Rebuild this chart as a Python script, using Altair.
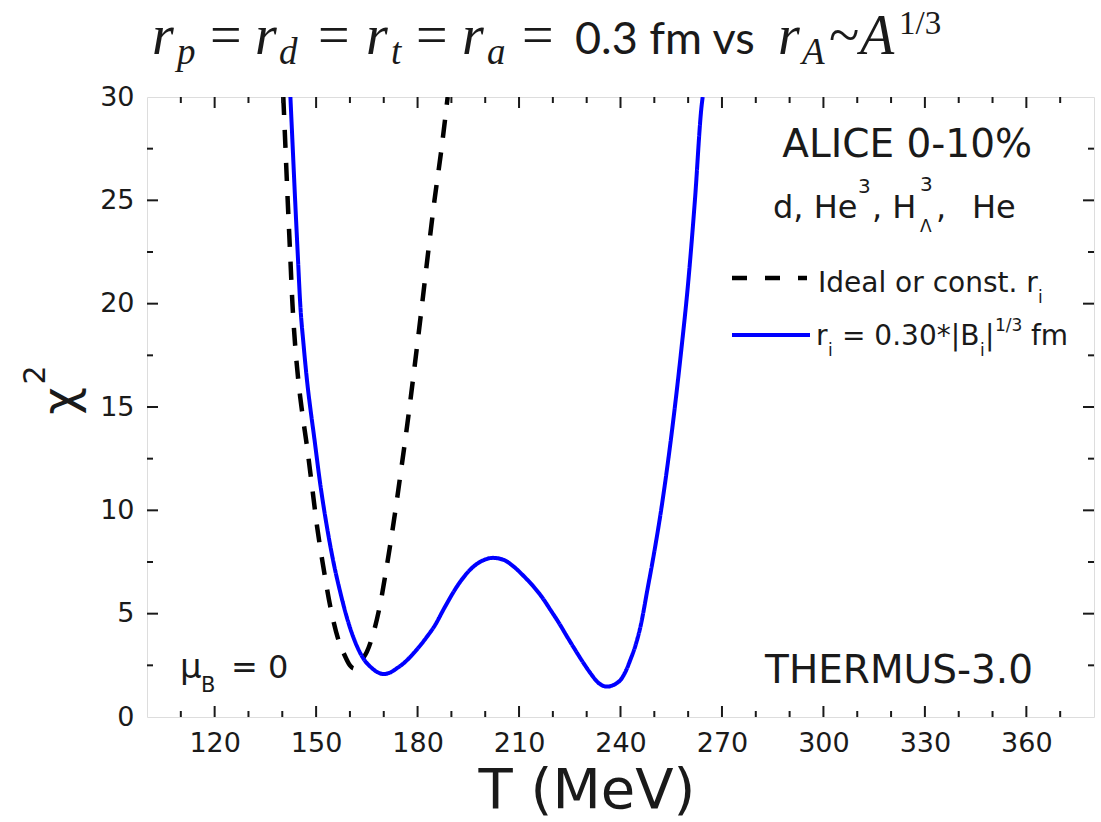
import altair as alt
import pandas as pd

# ---------------- data ----------------
ideal_T = [140.3, 140.95, 141.6, 142.3, 143.0, 143.8, 144.8, 146.0, 147.3, 148.8, 150.3,
           152.1, 154.2, 156.6, 158.4, 160.0, 161.2, 162.4, 163.5, 165.0, 167.0, 169.0,
           171.0, 173.0, 175.0, 177.0, 179.0, 181.0, 183.0, 185.0, 187.0, 188.9]
ideal_chi2 = [30.0, 27.5, 25.0, 22.5, 20.0, 18.0, 16.2, 14.6, 13.1, 11.15, 9.2,
              7.3, 5.34, 3.73, 3.0, 2.5, 2.35, 2.45, 2.75, 3.15, 4.1, 5.5,
              7.4, 9.5, 11.8, 14.2, 16.8, 19.5, 22.3, 25.0, 27.4, 30.0]

scaled_T = [142.4, 143.1, 143.8, 144.6, 145.3, 146.3, 147.5, 148.4, 149.3, 151.2, 153.2,
            155.2, 157.2, 159.6, 162.6, 164.3, 166.0, 168.0, 170.0, 172.0, 173.9, 175.9,
            177.9, 182.8, 185.0, 188.0, 192.0, 196.0, 199.0, 202.3, 205.5, 208.4, 211.5,
            214.3, 217.0, 219.3, 221.8, 224.2, 226.7, 229.1, 231.2, 233.1, 234.7, 236.0,
            237.5, 239.0, 240.0, 241.5, 242.9, 244.5, 245.9, 248.0, 250.0, 252.0, 254.0,
            256.0, 258.0, 260.0, 262.0, 264.0, 264.3]
scaled_chi2 = [30.0, 27.5, 25.0, 22.3, 20.0, 18.0, 16.0, 14.8, 13.7, 11.3, 9.2,
               7.44, 6.0, 4.54, 3.24, 2.75, 2.44, 2.18, 2.08, 2.16, 2.36, 2.6,
               2.92, 3.89, 4.4, 5.3, 6.4, 7.2, 7.55, 7.7, 7.6, 7.28, 6.8,
               6.31, 5.75, 5.18, 4.55, 3.89, 3.22, 2.6, 2.1, 1.71, 1.52, 1.47,
               1.52, 1.65, 1.79, 2.2, 2.76, 3.5, 4.37, 6.2, 8.0, 10.0, 12.3,
               14.9, 17.8, 21.0, 25.0, 29.6, 30.0]

series_names = ["Ideal or const. r_i", "r_i = 0.30*|B_i|^1/3 fm"]

x_tick_labels = [120, 150, 180, 210, 240, 270, 300, 330, 360]
x_ticks = list(range(110, 380, 10))
y_tick_labels = [0, 5, 10, 15, 20, 25, 30]
y_ticks = [2.5 * i for i in range(1, 12)]

# ---------------- layout constants ----------------
W, H = 947, 620
PL, PT = 147, 97
FONT = "DejaVu Sans"
INK = "#1a1a1a"

df = pd.concat([
    pd.DataFrame({"T": ideal_T, "chi2": ideal_chi2, "series": series_names[0], "order": range(len(ideal_T))}),
    pd.DataFrame({"T": scaled_T, "chi2": scaled_chi2, "series": series_names[1], "order": range(len(scaled_T))}),
])

xs = alt.Scale(domain=[100, 380], nice=False, zero=False)
ys = alt.Scale(domain=[0, 30], nice=False, zero=False)

base_x = alt.X("T:Q", scale=xs,
               axis=alt.Axis(values=x_tick_labels, labelFontSize=27, labelFont=FONT, labelColor=INK,
                             ticks=False, tickSize=0, domain=False, grid=False, labelPadding=13,
                             title=None))
base_y = alt.Y("chi2:Q", scale=ys,
               axis=alt.Axis(values=y_tick_labels, labelFontSize=27, labelFont=FONT, labelColor=INK,
                             ticks=False, tickSize=0, domain=False, grid=False, labelPadding=13,
                             title=None))

lines = alt.Chart(df).mark_line(clip=True, interpolate="monotone").encode(
    x=base_x, y=base_y,
    color=alt.Color("series:N", scale=alt.Scale(domain=series_names, range=["#000000", "#0000ff"]), legend=None),
    strokeDash=alt.StrokeDash("series:N", scale=alt.Scale(domain=series_names, range=[[18, 15], [1, 0]]), legend=None),
    strokeWidth=alt.StrokeWidth("series:N", scale=alt.Scale(domain=series_names, range=[4.5, 4]), legend=None),
    detail="series:N", order="order:Q",
)

# tick marks (inward) on all four sides
xt = pd.DataFrame({"t": x_ticks, "major": [t % 30 == 0 for t in x_ticks]})
yt = pd.DataFrame({"v": y_ticks, "major": [v % 5 == 0 for v in y_ticks]})

def xtick_layer(major, bottom):
    L = 11 if major else 6
    d = xt[xt.major == major]
    y0 = H if bottom else 0
    y1 = H - L if bottom else L
    return alt.Chart(d).mark_rule(color=INK, strokeWidth=2).encode(
        x=alt.X("t:Q", scale=xs), y=alt.value(y0), y2=alt.value(y1))

def ytick_layer(major, left):
    L = 11 if major else 6
    d = yt[yt.major == major]
    x0 = 0 if left else W
    x1 = L if left else W - L
    return alt.Chart(d).mark_rule(color=INK, strokeWidth=2).encode(
        y=alt.Y("v:Q", scale=ys), x=alt.value(x0), x2=alt.value(x1))

ticks = [xtick_layer(m, b) for m in (True, False) for b in (True, False)] + \
        [ytick_layer(m, l) for m in (True, False) for l in (True, False)]

one = pd.DataFrame({"a": [0]})

def txt(s, x, y, size, font=FONT, style="normal", align="left", angle=0, baseline="alphabetic", color=INK):
    return alt.Chart(one).mark_text(text=s, fontSize=size, font=font, fontStyle=style, align=align,
                                    baseline=baseline, angle=angle, color=color).encode(
        x=alt.value(x - PL), y=alt.value(y - PT))

def seg(x0, x1, y, color, width, dash=None):
    kw = dict(color=color, strokeWidth=width)
    if dash:
        kw["strokeDash"] = dash
    return alt.Chart(one).mark_rule(**kw).encode(
        x=alt.value(x0 - PL), x2=alt.value(x1 - PL), y=alt.value(y - PT))

texts = []
# title
SER = "Liberation Serif"
SANS2 = "Lato"
tb, sb, S, s = 54, 64, 56, 37
texts += [
    txt("r", 152, tb, S, SER, "italic"), txt("p", 177, sb, s, SER, "italic"),
    txt("=", 210, tb, S, SER),
    txt("r", 255, tb, S, SER, "italic"), txt("d", 279, sb, s, SER, "italic"),
    txt("=", 318, tb, S, SER),
    txt("r", 366, tb, S, SER, "italic"), txt("t", 391, sb, s, SER, "italic"),
    txt("=", 416, tb, S, SER),
    txt("r", 462, tb, S, SER, "italic"), txt("a", 487, sb, s, SER, "italic"),
    txt("=", 522, tb, S, SER),
    txt("0.3 fm vs", 575, tb, 45, SANS2),
    txt("r", 778, tb, S, SER, "italic"), txt("A", 802, sb, s, SER, "italic"),
    txt("~", 829, tb, S, SER),
    txt("A", 860, tb, S, SER, "italic"), txt("1/3", 899, tb - 20, 33, SER),
]
# y-axis title chi^2 (rotated)
texts += [
    txt("χ", 76, 401, 48, FONT, angle=270, align="center"),
    txt("2", 45, 375, 30, FONT, angle=270, align="center"),
]
# x-axis title
texts += [txt("T (MeV)", 587, 808, 56, FONT, align="center")]
# annotations
texts += [
    txt("ALICE 0-10%", 1032, 157, 39, align="right"),
    txt("d, He", 773, 218, 32), txt("3", 858, 193, 20),
    txt(", H", 872, 218, 32), txt("3", 920, 191, 20), txt("Λ", 920, 232, 17),
    txt(",", 936, 218, 32), txt("He", 972, 218, 32),
    txt("μ", 180, 678, 34), txt("B", 201, 692, 21), txt("= 0", 231, 678, 32),
    txt("THERMUS-3.0", 1033, 683, 39, align="right"),
]
# legend
texts += [
    seg(732, 807, 278, "#000000", 4.5, [15, 18]),
    txt("Ideal or const. r", 818, 292, 28), txt("i", 1038, 303, 17),
    seg(732, 810, 335, "#0000ff", 4),
    txt("r", 816, 345, 28), txt("i", 828, 356, 17),
    txt("= 0.30*|B", 842, 345, 28), txt("i", 980, 356, 17), txt("|", 985, 345, 28),
    txt("1/3", 995, 331, 17), txt("fm", 1031, 345, 28),
]

chart = alt.layer(lines, *ticks, *texts).properties(
    width=W, height=H,
    padding={"left": PL, "top": PT, "right": 7, "bottom": 105},
    autosize="none",
).configure_view(stroke=INK, strokeWidth=2).configure(background="white")

chart.save("out.html", embed_options={"renderer": "svg", "actions": False})
